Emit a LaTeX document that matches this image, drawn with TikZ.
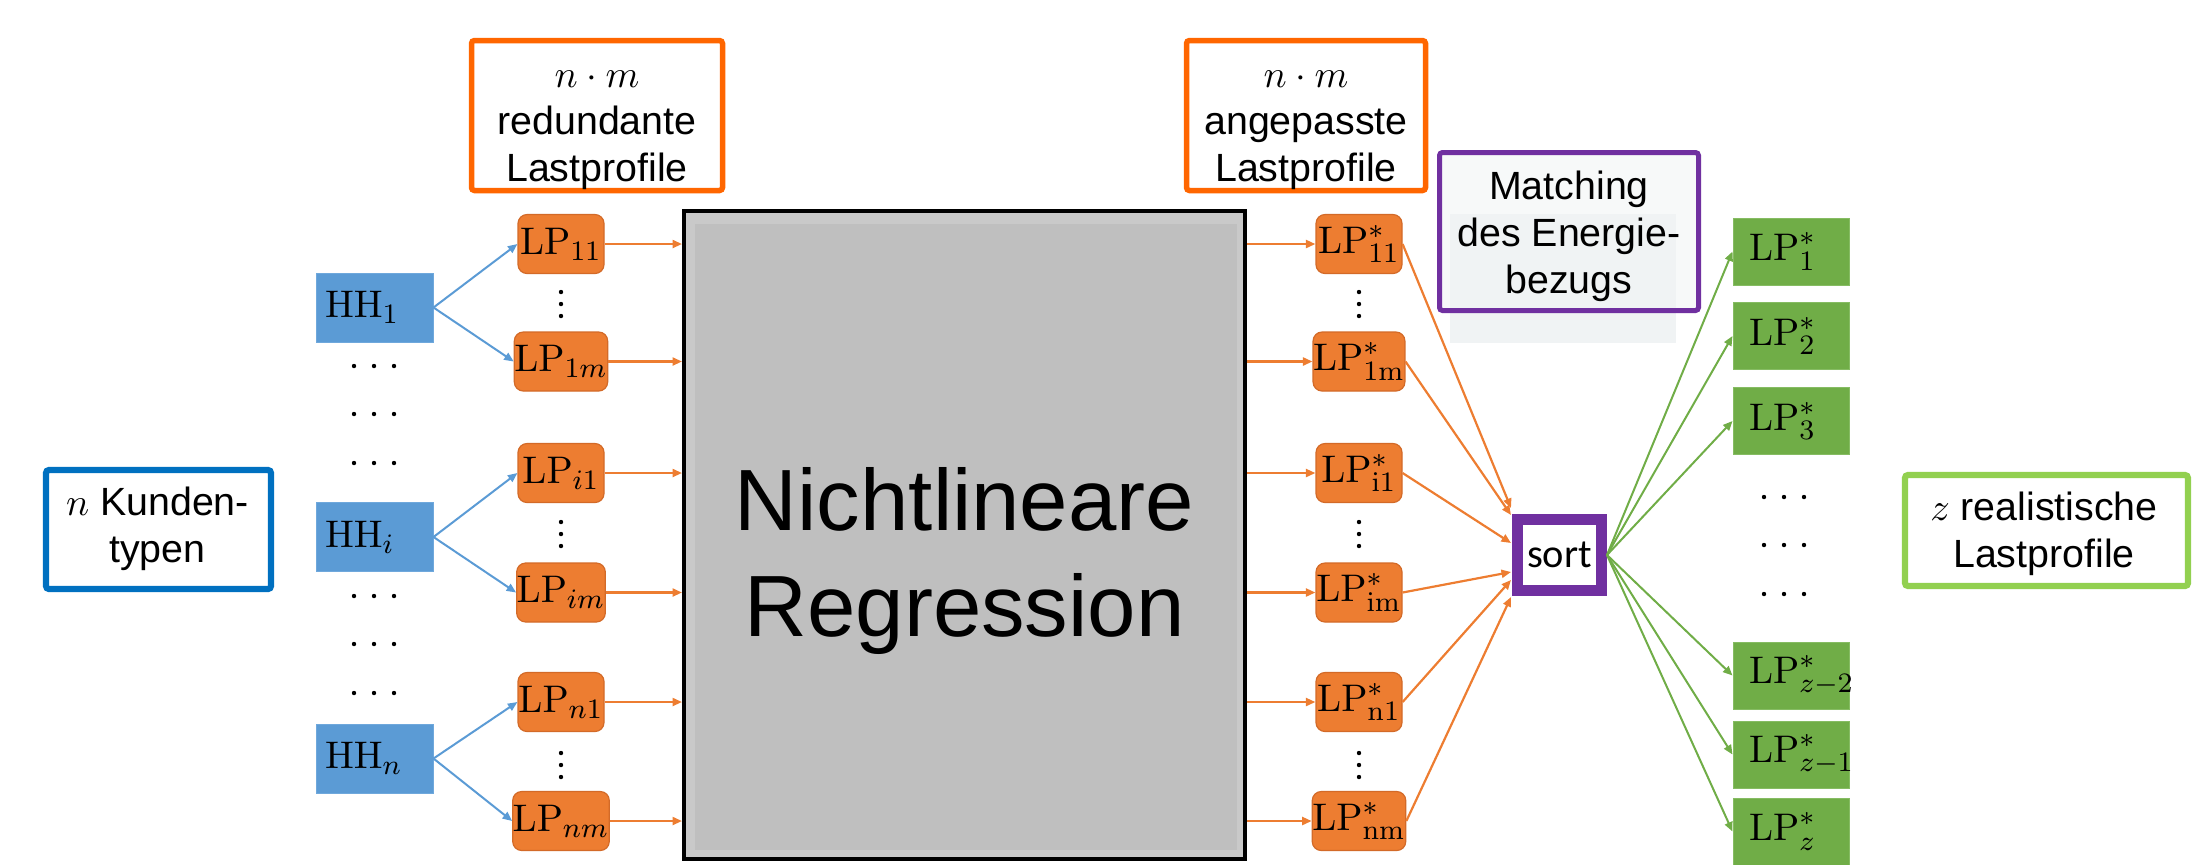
\documentclass[tikz,border=0pt]{standalone}
\usepackage[no-math]{fontspec}
\setmainfont{Liberation Sans}
\newfontfamily\calibri{Carlito}
\usetikzlibrary{arrows.meta,calc}
\definecolor{lporange}{HTML}{ED7D31}
\definecolor{lporangeD}{HTML}{D36A28}
\definecolor{hhblue}{HTML}{5B9BD5}
\definecolor{hhblueL}{HTML}{6FA8DC}
\definecolor{lpgreen}{HTML}{70AD47}
\definecolor{lpgreenL}{HTML}{86BC63}
\definecolor{frameorange}{HTML}{FF6600}
\definecolor{frameblue}{HTML}{0070C0}
\definecolor{framepurple}{HTML}{7030A0}
\definecolor{framegreen}{HTML}{92D050}
\definecolor{grayout}{HTML}{C9C9C9}
\definecolor{grayin}{HTML}{BFBFBF}
\definecolor{matchfill}{HTML}{F7F9F9}
\definecolor{matchshade}{HTML}{F0F3F4}
\begin{document}
\begin{tikzpicture}[x=0.1mm,y=-0.1mm,
  lbl/.style={font=\fontsize{11.2}{13.4}\selectfont, align=center, inner sep=0pt},
  lblframe/.style={draw, line width=0.55mm, rounded corners=0.3mm, fill=white, inner sep=0pt},
  lpbox/.style={rounded corners=0.9mm, fill=lporange, draw=lporangeD, line width=0.12mm, minimum width=8.6mm, minimum height=5.9mm, inner sep=0pt, font=\fontsize{11}{13}\selectfont},
  hhbox/.style={fill=hhblue, draw=hhblueL, line width=0.1mm, minimum height=6.9mm, text width=9.9mm, inner xsep=0.9mm, inner ysep=0pt, align=left, font=\fontsize{11}{13}\selectfont},
  gbox/.style={fill=lpgreen, draw=lpgreenL, line width=0.1mm, minimum height=6.7mm, text width=8.4mm, inner xsep=1.6mm, inner ysep=0pt, align=left, font=\fontsize{11}{13}\selectfont},
  arr/.style={-{Triangle[length=0.95mm,width=0.8mm]}},
  barr/.style={arr, draw=hhblue, line width=0.2mm},
  oarr/.style={arr, draw=lporange, line width=0.22mm},
  garr/.style={arr, draw=lpgreen, line width=0.2mm},
  dotc/.style={fill=black}
]
\useasboundingbox (0,0) rectangle (2205,864);

% --- label frames ---
\node[lblframe, draw=frameorange, minimum width=25.1mm, minimum height=15.0mm] (redbox) at (597,115.5) {};
\node[lbl] (redtxt) at (597,130) {$n\cdot m$\\redundante\\Lastprofile};
\node[lblframe, draw=frameorange, minimum width=23.9mm, minimum height=15.0mm] (angbox) at (1306,115.5) {};
\node[lbl] (angtxt) at (1306,130) {$n\cdot m$\\angepasste\\Lastprofile};
\node[lblframe, draw=frameblue, minimum width=22.5mm, minimum height=11.9mm, line width=0.62mm] (kbox) at (158.5,529.5) {};
\node[lbl] (ktxt) at (157.5,528.5) {$n$ Kunden-\\typen};
\node[lblframe, draw=framegreen, minimum width=28.3mm, minimum height=11.1mm, line width=0.62mm] (zbox) at (2046.5,530.5) {};
\node[lbl] (ztxt) at (2044,534) {$z$ realistische\\Lastprofile};

% matching box
\node[fill=matchfill, minimum width=25.9mm, minimum height=15.8mm, inner sep=0pt] (matchbg) at (1569,231.5) {};
\fill[matchshade] (1450,214) rectangle (1676,343);
\node[draw=framepurple, line width=0.5mm, rounded corners=0.3mm, minimum width=25.9mm, minimum height=15.8mm, inner sep=0pt] (match) at (1569,231.5) {};
\node[lbl] (matchtxt) at (1569,236) {Matching\\des Energie-\\bezugs};

% --- regression block ---
\node[draw=black, fill=grayout, line width=0.4mm, minimum width=56.1mm, minimum height=64.8mm, inner sep=0pt] (gray) at (964.5,535) {};
\fill[grayin] ($(gray.north west)+(13,15)$) rectangle ($(gray.south east)+(-10,-11)$);
\node[font=\fontsize{24.75}{30.4}\selectfont, align=center, inner sep=0pt] (nlr) at (964.5,561) {Nichtlineare\\Regression};

% --- HH boxes ---
\node[hhbox] (hh1) at (374.5,307.5) {$\mathrm{HH}_1$};
\node[hhbox] (hhi) at (374.5,537) {$\mathrm{HH}_i$};
\node[hhbox] (hhn) at (374.5,758.5) {$\mathrm{HH}_n$};

% --- LP left ---
\node[lpbox] (lp11) at (561,244) {$\mathrm{LP}_{11}$};
\node[lpbox] (lp1m) at (561,361.5) {$\mathrm{LP}_{1m}$};
\node[lpbox] (lpi1) at (561,473) {$\mathrm{LP}_{i1}$};
\node[lpbox] (lpim) at (561,592.5) {$\mathrm{LP}_{im}$};
\node[lpbox] (lpn1) at (561,702) {$\mathrm{LP}_{n1}$};
\node[lpbox] (lpnm) at (561,821) {$\mathrm{LP}_{nm}$};

% --- LP right ---
\node[lpbox] (lps11) at (1359,244) {$\mathrm{LP}^{*}_{11}$};
\node[lpbox] (lps1m) at (1359,361.5) {$\mathrm{LP}^{*}_{\mathrm{1m}}$};
\node[lpbox] (lpsi1) at (1359,473) {$\mathrm{LP}^{*}_{\mathrm{i1}}$};
\node[lpbox] (lpsim) at (1359,592.5) {$\mathrm{LP}^{*}_{\mathrm{im}}$};
\node[lpbox] (lpsn1) at (1359,702) {$\mathrm{LP}^{*}_{\mathrm{n1}}$};
\node[lpbox] (lpsnm) at (1359,821) {$\mathrm{LP}^{*}_{\mathrm{nm}}$};

% --- sort ---
\node[draw=framepurple, fill=white, line width=1.1mm, minimum width=8.4mm, minimum height=7.1mm, inner sep=0pt, font=\calibri\fontsize{11.5}{13}\selectfont] (sort) at (1559.5,555) {sort};

% --- green outputs ---
\node[gbox] (g1) at (1791,251.5) {$\mathrm{LP}^{*}_{1}$};
\node[gbox] (g2) at (1791,336) {$\mathrm{LP}^{*}_{2}$};
\node[gbox] (g3) at (1791,421) {$\mathrm{LP}^{*}_{3}$};
\node[gbox] (gz2) at (1791,675.5) {$\mathrm{LP}^{*}_{z-2}$};
\node[gbox] (gz1) at (1791,754.5) {$\mathrm{LP}^{*}_{z-1}$};
\node[gbox] (gz) at (1791,831.5) {$\mathrm{LP}^{*}_{z}$};

% --- dots ---
\foreach \yy in {366,414,463,596,644,693}
  \foreach \xx in {354,374,394}
    \fill[dotc] (\xx,\yy) circle[radius=0.22mm];
\foreach \yy in {497,545,594}
  \foreach \xx in {1764,1784,1804}
    \fill[dotc] (\xx,\yy) circle[radius=0.22mm];
\foreach \yy in {292,304,316,522,534,546,753,765,777}
  \foreach \xx in {561,1359}
    \fill[dotc] (\xx,\yy) circle[radius=0.22mm];

% --- blue arrows ---
\draw[barr] (hh1.east) -- (lp11.west);
\draw[barr] (hh1.east) -- (lp1m.west);
\draw[barr] (hhi.east) -- (lpi1.west);
\draw[barr] (hhi.east) -- (lpim.west);
\draw[barr] (hhn.east) -- (lpn1.west);
\draw[barr] (hhn.east) -- (lpnm.west);

% --- orange arrows into / out of regression ---
\foreach \n in {lp11,lp1m,lpi1,lpim,lpn1,lpnm}
  \draw[oarr] (\n.east) -- (\n.east -| gray.west);
\foreach \n in {lps11,lps1m,lpsi1,lpsim,lpsn1,lpsnm}
  \draw[oarr] (\n.west -| gray.east) -- (\n.west);

% --- orange arrows into sort ---
\draw[oarr] (lps11.east) -- ($(sort.north west)+(-1,-6)$);
\draw[oarr] (lps1m.east) -- ($(sort.north west)+(-1,1)$);
\draw[oarr] (lpsi1.east) -- ($(sort.north west)+(-1,29)$);
\draw[oarr] (lpsim.east) -- ($(sort.north west)+(-1,58)$);
\draw[oarr] (lpsn1.east) -- ($(sort.north west)+(-1,66)$);
\draw[oarr] (lpsnm.east) -- ($(sort.north west)+(-1,83)$);

% --- green arrows ---
\foreach \n in {g1,g2,g3,gz2,gz1,gz}
  \draw[garr] (sort.east) -- (\n.west);
\end{tikzpicture}
\end{document}
